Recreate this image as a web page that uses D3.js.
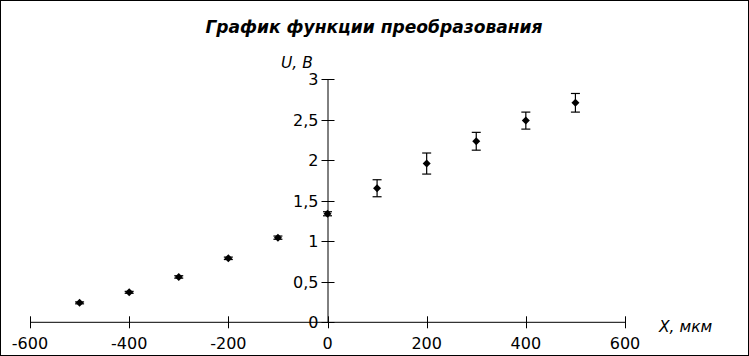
<!DOCTYPE html>
<html><head><meta charset="utf-8">
<script src="https://cdn.jsdelivr.net/npm/d3@7"></script>
<style>body{margin:0;background:#fff}svg{display:block}</style>
</head><body>
<svg id="c" width="749" height="356"></svg>
<script>
const xValues = [-500, -400, -300, -200, -100, 0, 100, 200, 300, 400, 500];
const uValues = [0.24, 0.37, 0.56, 0.79, 1.045, 1.34, 1.655, 1.96, 2.235, 2.49, 2.71];
const uErrors = [0.012, 0.012, 0.015, 0.015, 0.02, 0.025, 0.105, 0.13, 0.11, 0.105, 0.115];
const xTicks = [-600, -400, -200, 0, 200, 400, 600];
const yTicks = [0, 0.5, 1, 1.5, 2, 2.5, 3];
const title = "График функции преобразования";
const xLabel = "X, мкм";
const yLabel = "U, B";

const svg = d3.select("#c");
svg.append("rect").attr("x",0.5).attr("y",0.5).attr("width",748).attr("height",355)
  .attr("fill","#fff").attr("stroke","#000");

const x = d3.scaleLinear().domain([-600,600]).range([30,625]);
const y = d3.scaleLinear().domain([0,3]).range([322.3,79.3]);
const fmt = d => String(d).replace(".", ",");

svg.append("text").attr("x",374).attr("y",33).attr("text-anchor","middle")
  .attr("font-family","DejaVu Sans").attr("font-weight","bold").attr("font-style","italic")
  .attr("font-size",17.1).text(title);

// x axis
const gx = svg.append("g");
gx.append("line").attr("x1",x(-600)).attr("x2",x(600)).attr("y1",y(0)).attr("y2",y(0)).attr("stroke","#000");
gx.selectAll("line.t").data(xTicks).join("line").attr("class","t")
  .attr("x1",d=>Math.round(x(d))+0.5).attr("x2",d=>Math.round(x(d))+0.5)
  .attr("y1",y(0)-6).attr("y2",y(0)+6).attr("stroke","#000");
gx.selectAll("text").data(xTicks).join("text")
  .attr("x",d=>x(d)).attr("y",349).attr("text-anchor","middle")
  .attr("font-family","DejaVu Sans").attr("font-size",16).text(d=>d);

// y axis
const gy = svg.append("g");
gy.append("line").attr("x1",x(0)+0.5).attr("x2",x(0)+0.5).attr("y1",y(3)).attr("y2",y(0)).attr("stroke","#000");
gy.selectAll("line.t").data(yTicks).join("line").attr("class","t")
  .attr("x1",x(0)-6).attr("x2",x(0)+7).attr("y1",d=>Math.round(y(d))+0.5).attr("y2",d=>Math.round(y(d))+0.5).attr("stroke","#000");
gy.selectAll("text").data(yTicks).join("text")
  .attr("x",x(0)-9).attr("y",d=>y(d)+6).attr("text-anchor","end")
  .attr("font-family","DejaVu Sans").attr("font-size",16).text(fmt);

svg.append("text").attr("x",281).attr("y",68).attr("font-family","DejaVu Sans")
  .attr("font-style","italic").attr("font-size",15.5).text(yLabel);
svg.append("text").attr("x",659).attr("y",332).attr("font-family","DejaVu Sans")
  .attr("font-style","italic").attr("font-size",15.5).text(xLabel);

// error bars
const pts = xValues.map((v,i)=>({x:v,u:uValues[i],e:uErrors[i]}));
const eb = svg.append("g").attr("stroke","#000").attr("stroke-width",1.2);
eb.selectAll("line.v").data(pts).join("line").attr("class","v")
  .attr("x1",d=>x(d.x)).attr("x2",d=>x(d.x)).attr("y1",d=>y(d.u+d.e)).attr("y2",d=>y(d.u-d.e));
eb.selectAll("line.c1").data(pts).join("line").attr("class","c1")
  .attr("x1",d=>x(d.x)-4.5).attr("x2",d=>x(d.x)+4.5).attr("y1",d=>y(d.u+d.e)).attr("y2",d=>y(d.u+d.e));
eb.selectAll("line.c2").data(pts).join("line").attr("class","c2")
  .attr("x1",d=>x(d.x)-4.5).attr("x2",d=>x(d.x)+4.5).attr("y1",d=>y(d.u-d.e)).attr("y2",d=>y(d.u-d.e));

// diamond markers
svg.append("g").selectAll("path").data(pts).join("path")
  .attr("transform",d=>`translate(${x(d.x)},${y(d.u)})`)
  .attr("d","M0,-4L4,0L0,4L-4,0Z").attr("fill","#000");
</script>
</body></html>
